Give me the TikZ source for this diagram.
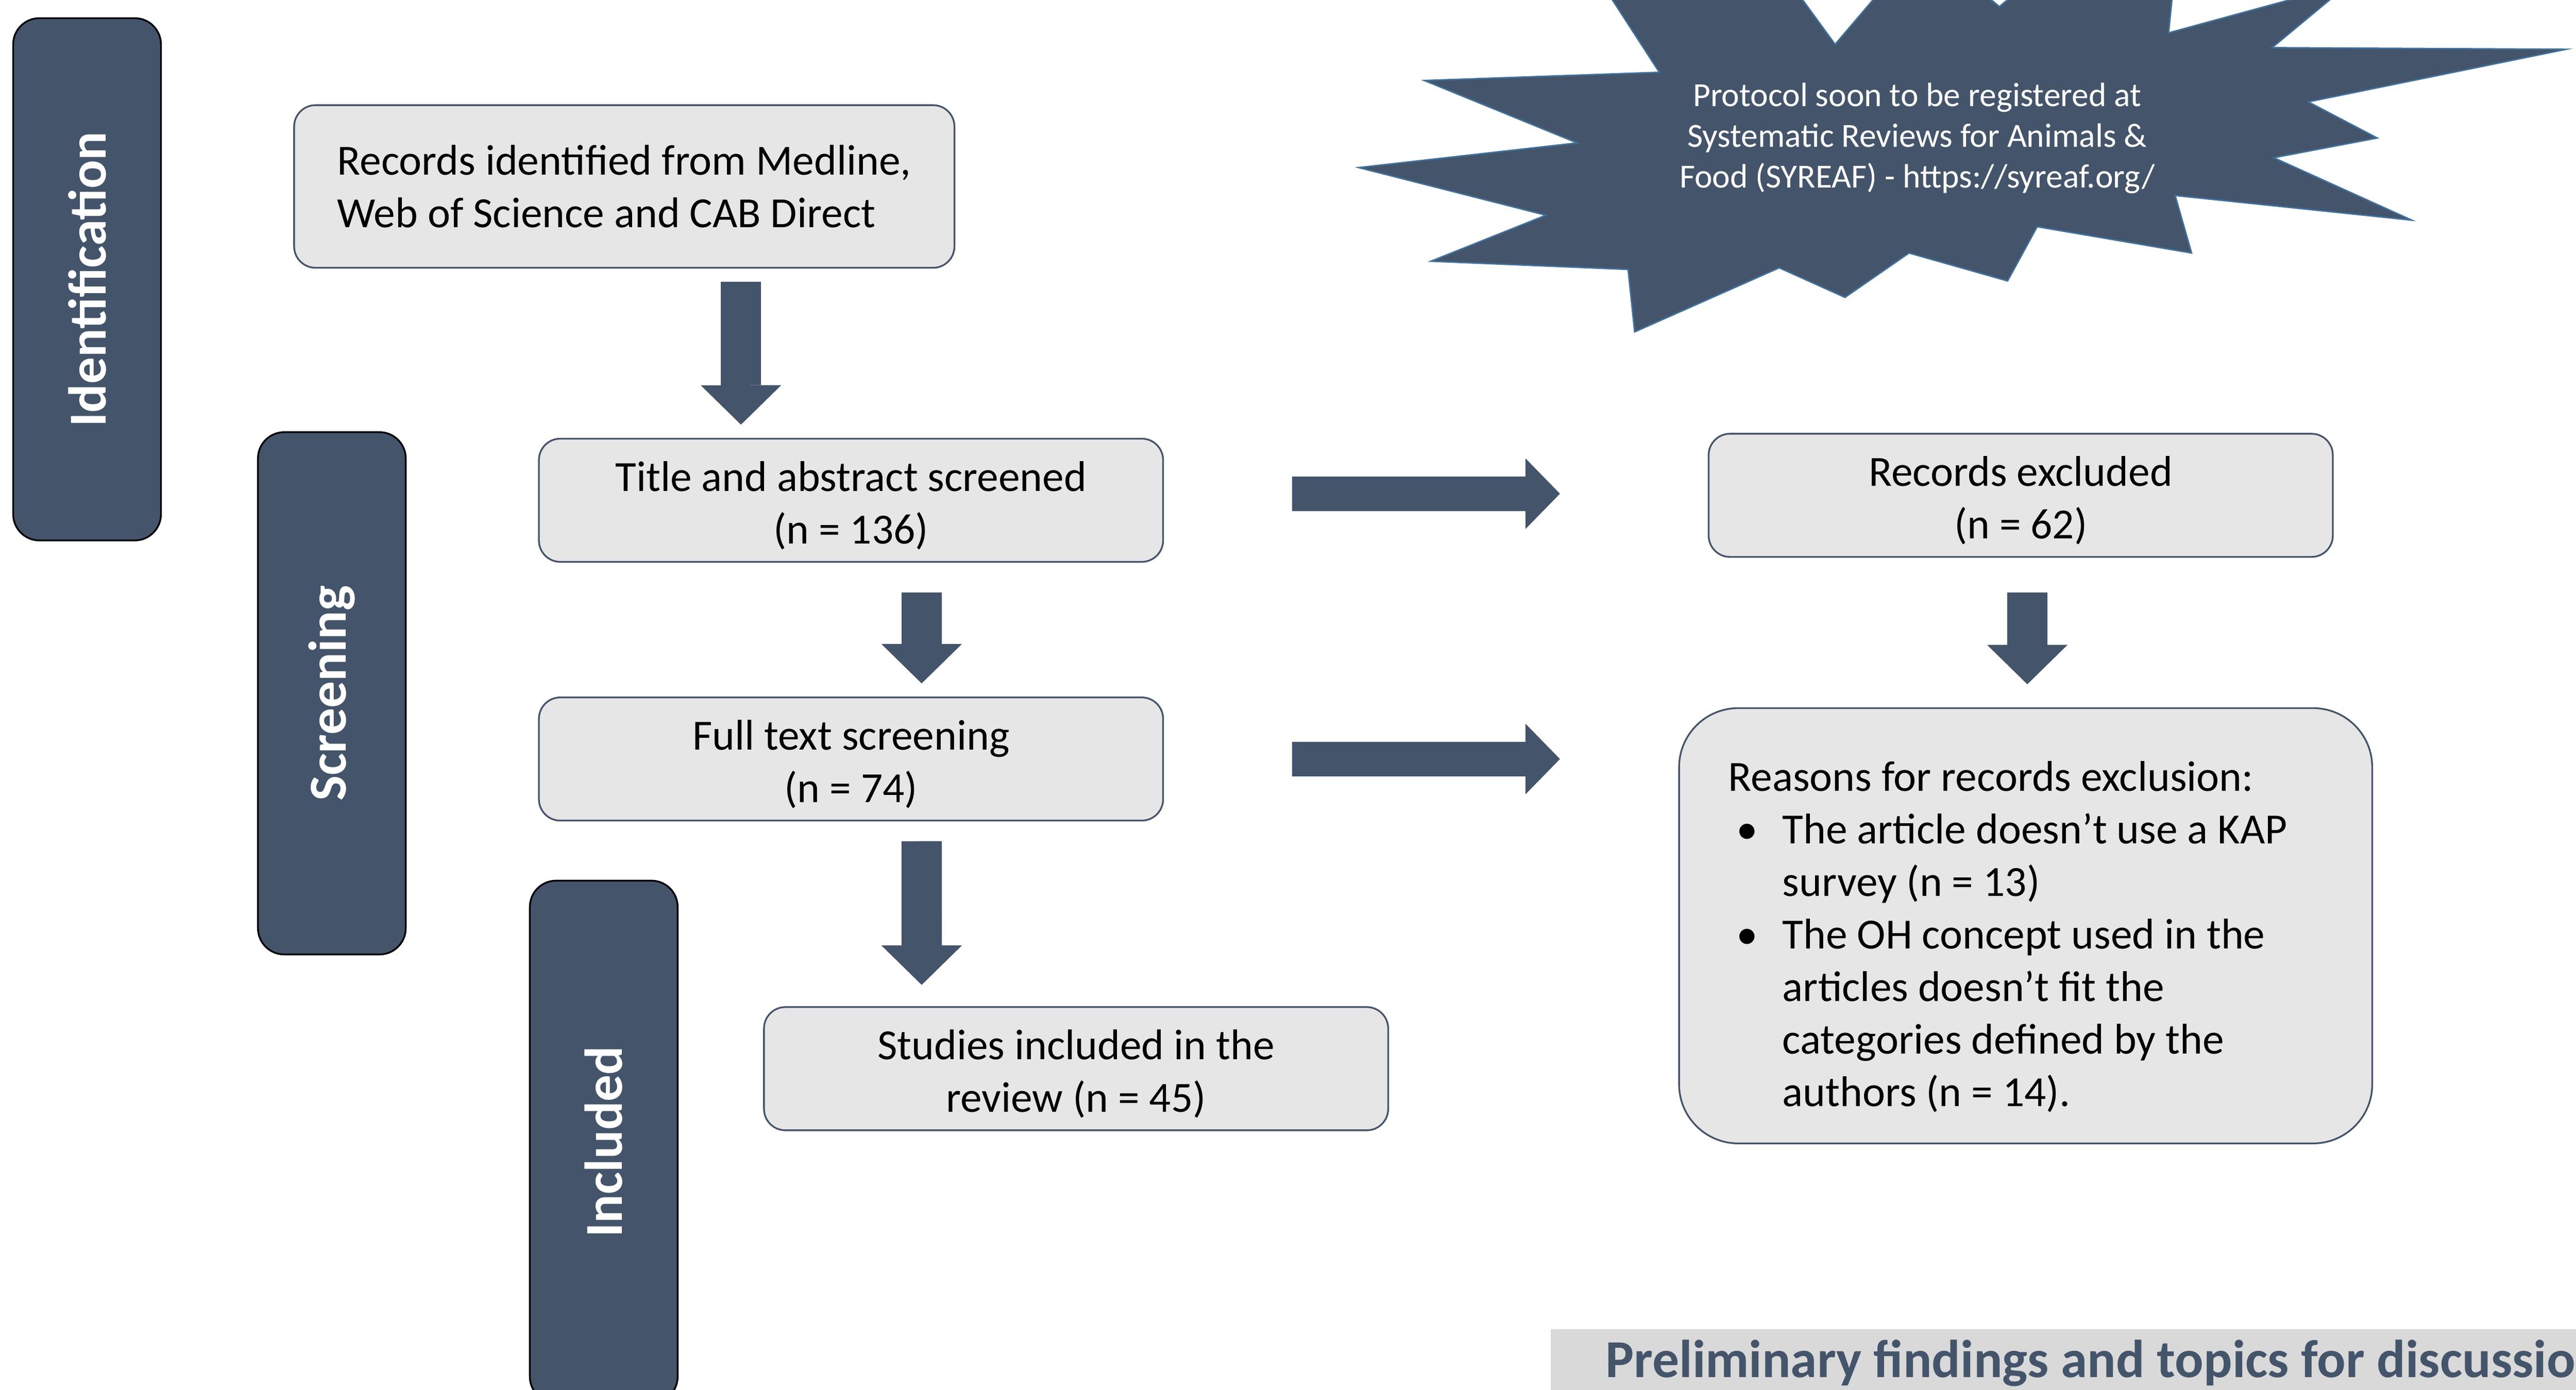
\documentclass[tikz,border=0pt]{standalone}
\usepackage{fontspec}
\setmainfont{Carlito}
\usetikzlibrary{arrows.meta}
\definecolor{slate}{HTML}{44546A}
\definecolor{boxgray}{HTML}{E7E6E6}
\definecolor{bannergray}{HTML}{D9D9D9}
\definecolor{starline}{HTML}{41719C}

\tikzset{
    stagebar/.style={rounded corners=0.32cm, fill=slate, draw=black, line width=0.6pt, rotate=90, minimum width=6.36cm, minimum height=1.8cm, inner sep=0pt, text=white, font=\fontsize{18.5}{22}\selectfont\bfseries},
    flowbox/.style={rounded corners=0.26cm, fill=boxgray, draw=slate, line width=0.6pt, minimum width=7.6cm, minimum height=1.5cm, inner sep=0pt, align=center, font=\fontsize{14.9}{18.2}\selectfont, text height=34pt, text depth=4pt},
    downarrow/.style={slate, line width=0.49cm, -{Triangle[width=0.98cm,length=0.48cm,line width=0pt]}},
    sidearrow/.style={slate, line width=0.42cm, -{Triangle[width=0.86cm,length=0.42cm,line width=0pt]}}
}

\begin{document}
\begin{tikzpicture}[x=0.02cm, y=-0.02cm]
    \useasboundingbox (0,0) rectangle (1568,846);
    \clip (0,0) rectangle (1568,846);

    \node[stagebar] (ident) at (53,170) {Identification};
    \node[stagebar] (screen) at (202,422) {Screening};
    \node[stagebar] (incl) at (367.5,695) {Included};

    \node[flowbox, minimum width=8.04cm, minimum height=1.98cm, align=left, text height=, text depth=] (records) at (380,113.5) {Records identified from Medline,\\Web of Science and CAB Direct};
    \node[flowbox] (titleabs) at (518,304.5) {Title and abstract screened\\(n = 136)};
    \node[flowbox] (excluded) at (1230,301.5) {Records excluded\\(n = 62)};
    \node[flowbox] (fulltext) at (518,462) {Full text screening\\(n = 74)};
    \node[flowbox] (included) at (655,650.5) {Studies included in the\\review (n = 45)};
    \node[flowbox, rounded corners=0.72cm, minimum width=8.44cm, minimum height=5.3cm, text width=7.24cm, align=flush left, text height=, text depth=, execute at begin node={\rule{0pt}{18pt}}] (reasons) at (1233,563.5) {Reasons for records exclusion:\\
        \hspace*{0.1cm}\makebox[0.56cm][l]{\textbullet}The article doesn’t use a KAP\\
        \hspace*{0.66cm}survey (n = 13)\\
        \hspace*{0.1cm}\makebox[0.56cm][l]{\textbullet}The OH concept used in the\\
        \hspace*{0.66cm}articles doesn’t fit the\\
        \hspace*{0.66cm}categories defined by the\\
        \hspace*{0.66cm}authors (n = 14).};

    \draw[downarrow, shorten <=0.16cm, shorten >=0.16cm] ([xshift=1.42cm]records.south) -- ([xshift=-1.34cm]titleabs.north);
    \draw[downarrow, shorten <=0.36cm, shorten >=0.16cm] ([xshift=0.86cm]titleabs.south) -- ([xshift=0.86cm]fulltext.north);
    \draw[downarrow, shorten <=0.24cm, shorten >=0.26cm] ([xshift=0.86cm]fulltext.south) -- ([xshift=-1.88cm]included.north);
    \draw[downarrow, shorten <=0.42cm, shorten >=0.28cm] ([xshift=0.08cm]excluded.south) -- ([xshift=0.08cm]excluded.south |- reasons.north);
    \draw[sidearrow, shorten <=1.56cm, shorten >=1.8cm] (titleabs.east |- 0,300.5) -- (excluded.west |- 0,300.5);
    \draw[sidearrow, shorten <=1.56cm, shorten >=1.44cm] (fulltext.east) -- (fulltext.east -| reasons.west);

    \filldraw[fill=slate, draw=starline, line width=0.5pt] (1010,44) -- (975,-10) -- (1090,-10) -- (1117,27) -- (1140,0) -- (1148,-10) -- (1200,-10) -- (1217,4) -- (1234,-10) -- (1323,-10) -- (1320,20) -- (1430,-10) -- (1383,29) -- (1562,30) -- (1405,62) -- (1447,84) -- (1384,96) -- (1468,134) -- (1324,119) -- (1334,154) -- (1240,138) -- (1222,171) -- (1162,154) -- (1123,181) -- (1083,163) -- (995,202) -- (991,164) -- (871,159) -- (941,131) -- (827,102) -- (960,87) -- (867,49) -- cycle;
    \node[align=center, text=white, font=\fontsize{11.7}{14.1}\selectfont] (protocol) at (1167,84) {Protocol soon to be registered at\\Systematic Reviews for Animals \&\\Food (SYREAF) - https://syreaf.org/};

    \fill[bannergray] (944,809) rectangle (1600,860);
    \node[anchor=base west, inner sep=0pt, text=slate, font=\fontsize{18.5}{22}\selectfont\bfseries] (findings) at (977,838.5) {Preliminary findings and topics for discussion};
\end{tikzpicture}
\end{document}
